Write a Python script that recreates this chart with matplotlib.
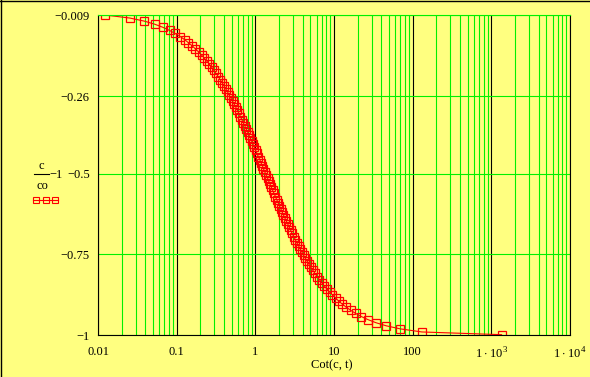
import matplotlib
matplotlib.use('Agg')
import matplotlib.pyplot as plt
from matplotlib.lines import Line2D
from matplotlib.ticker import LogLocator, NullFormatter

# Cot(c,t) values (x, log axis)
cot = [0.0123, 0.0255, 0.0390, 0.0527, 0.0668, 0.0811, 0.0957, 0.111, 0.126, 0.141,
       0.157, 0.173, 0.190, 0.207, 0.224, 0.242, 0.260, 0.279, 0.297, 0.317,
       0.337, 0.357, 0.378, 0.399, 0.421, 0.443, 0.466, 0.490, 0.514, 0.539,
       0.565, 0.591, 0.618, 0.646, 0.674, 0.703, 0.734, 0.765, 0.797, 0.830,
       0.864, 0.899, 0.935, 0.973, 1.01, 1.05, 1.09, 1.14, 1.18, 1.23,
       1.27, 1.32, 1.37, 1.43, 1.48, 1.54, 1.60, 1.66, 1.73, 1.80,
       1.87, 1.95, 2.02, 2.11, 2.19, 2.28, 2.38, 2.48, 2.59, 2.70,
       2.82, 2.94, 3.08, 3.22, 3.37, 3.54, 3.71, 3.90, 4.10, 4.32,
       4.56, 4.81, 5.09, 5.40, 5.74, 6.11, 6.53, 6.99, 7.51, 8.10,
       8.78, 9.56, 10.5, 11.5, 12.8, 14.4, 16.4, 18.9, 22.3, 27.1,
       34.2, 46.1, 69.9, 131, 1349]

# c/co - 1
ratio = [-0.0090, -0.0185, -0.0281, -0.0376, -0.0471, -0.0567, -0.0662, -0.0757, -0.0852, -0.0948,
         -0.1043, -0.1138, -0.1234, -0.1329, -0.1424, -0.1520, -0.1615, -0.1710, -0.1805, -0.1901,
         -0.1996, -0.2091, -0.2187, -0.2282, -0.2377, -0.2473, -0.2568, -0.2663, -0.2758, -0.2854,
         -0.2949, -0.3044, -0.3140, -0.3235, -0.3330, -0.3426, -0.3521, -0.3616, -0.3711, -0.3807,
         -0.3902, -0.3997, -0.4093, -0.4188, -0.4283, -0.4379, -0.4474, -0.4569, -0.4664, -0.4760,
         -0.4855, -0.4950, -0.5046, -0.5141, -0.5236, -0.5332, -0.5427, -0.5522, -0.5617, -0.5713,
         -0.5808, -0.5903, -0.5999, -0.6094, -0.6189, -0.6285, -0.6380, -0.6475, -0.6570, -0.6666,
         -0.6761, -0.6856, -0.6952, -0.7047, -0.7142, -0.7238, -0.7333, -0.7428, -0.7523, -0.7619,
         -0.7714, -0.7809, -0.7905, -0.8000, -0.8095, -0.8191, -0.8286, -0.8381, -0.8476, -0.8572,
         -0.8667, -0.8762, -0.8858, -0.8953, -0.9048, -0.9144, -0.9239, -0.9334, -0.9429, -0.9525,
         -0.9620, -0.9715, -0.9811, -0.9906, -0.9990]

xticks = [0.01, 0.1, 1, 10, 100, 1000, 10000]
xlabels = ['0.01', '0.1', '1', '10', '100', r'$1\cdot10^{3}$', r'$1\cdot10^{4}$']
yticks = [-1, -0.75, -0.5, -0.26, -0.009]
ylabels = ['\u22121', '\u22120.75', '\u22120.5', '\u22120.26', '\u22120.009']

bg = '#ffff80'
green = '#00f000'
W, H = 590, 377

plt.rcParams['font.family'] = 'Liberation Serif'
plt.rcParams['mathtext.fontset'] = 'custom'
plt.rcParams['mathtext.rm'] = 'Liberation Serif'
plt.rcParams['font.size'] = 9

fig = plt.figure(figsize=(W / 100, H / 100), dpi=100, facecolor=bg)
ax = fig.add_axes([98 / W, 1 - 335 / H, 472 / W, 320 / H])
ax.set_facecolor(bg)

ax.set_xscale('log')
ax.set_xlim(0.01, 1e4)
ax.set_ylim(-1, -0.009)
ax.set_xticks(xticks)
ax.set_xticklabels(xlabels)
ax.xaxis.set_minor_locator(LogLocator(base=10, subs=range(2, 10), numticks=50))
ax.xaxis.set_minor_formatter(NullFormatter())
ax.set_yticks(yticks)
ax.set_yticklabels(ylabels)

ax.grid(which='minor', axis='x', color=green, lw=0.8)
ax.grid(which='major', axis='x', color='black', lw=0.8)
ax.grid(which='major', axis='y', color=green, lw=0.8)
ax.set_axisbelow(True)
ax.tick_params(which='both', length=0)
ax.tick_params(axis='x', pad=8)
ax.tick_params(axis='y', pad=6)
for s in ax.spines.values():
    s.set_linewidth(0.8)
ax.spines['top'].set_color(green)

ax.plot(cot, ratio, color='red', lw=0.8, marker='s', ms=5.3,
        mfc='none', mec='red', mew=0.9)

# axis title and y label (Mathcad style)
fig.text(332 / W, 1 - 365 / H, 'Cot(c, t)', ha='center', va='center')
fig.text(41.5 / W, 1 - 166 / H, 'c', ha='center', va='center')
fig.text(42 / W, 1 - 186 / H, 'co', ha='center', va='center')
fig.text(56 / W, 1 - 175 / H, '\u22121', ha='center', va='center')
fig.add_artist(Line2D([34 / W, 49 / W], [1 - 174.3 / H] * 2, color='black', lw=0.8))
fig.add_artist(Line2D([33 / W, 36.3 / W, 45.7 / W, 54.7 / W, 58 / W], [1 - 199.5 / H] * 5,
                      color='red', lw=0.8, marker='s', ms=4.5, mfc='none', mec='red',
                      mew=0.8, markevery=[1, 2, 3]))

# outer frame (top and left edges)
fig.add_artist(Line2D([0.5 / W, 0.5 / W], [0, 1], color='black', lw=1))
fig.add_artist(Line2D([0, 1], [1 - 0.5 / H] * 2, color='black', lw=1))

fig.savefig('out.png', dpi=100, facecolor=bg)
